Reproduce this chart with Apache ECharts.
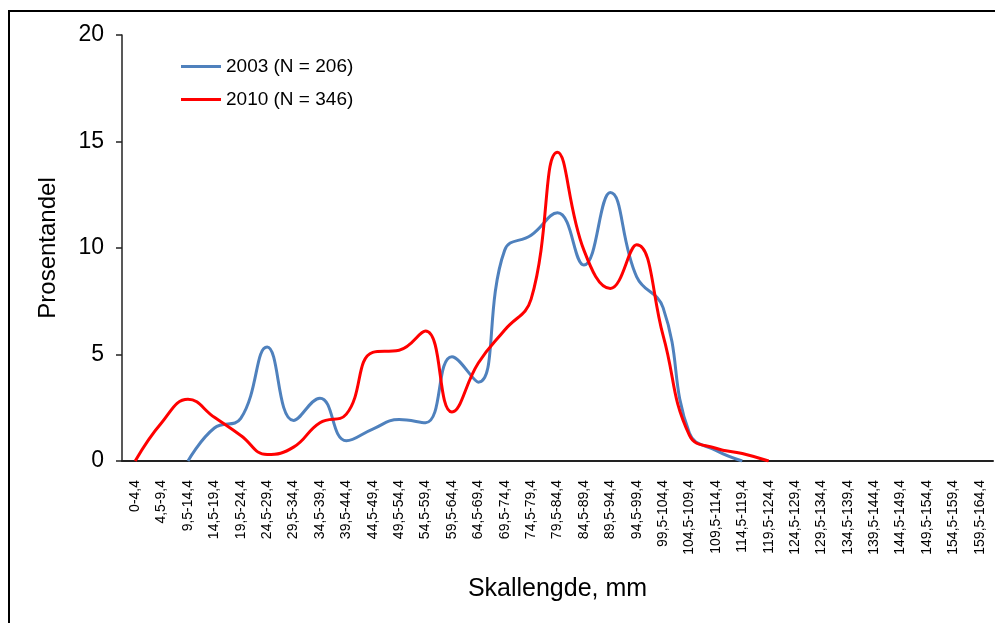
<!DOCTYPE html>
<html>
<head>
<meta charset="utf-8">
<script src="https://cdn.jsdelivr.net/npm/echarts@6/dist/echarts.min.js"></script>
<style>
  html, body { margin: 0; padding: 0; background: #fff; }
  #chart { width: 995px; height: 623px; }
</style>
</head>
<body>
<div id="chart"></div>
<script>
// lengdeklasser (mm)
var categories = [
  "0-4,4", "4,5-9,4", "9,5-14,4", "14,5-19,4", "19,5-24,4", "24,5-29,4",
  "29,5-34,4", "34,5-39,4", "39,5-44,4", "44,5-49,4", "49,5-54,4", "54,5-59,4",
  "59,5-64,4", "64,5-69,4", "69,5-74,4", "74,5-79,4", "79,5-84,4", "84,5-89,4",
  "89,5-94,4", "94,5-99,4", "99,5-104,4", "104,5-109,4", "109,5-114,4", "114,5-119,4",
  "119,5-124,4", "124,5-129,4", "129,5-134,4", "134,5-139,4", "139,5-144,4", "144,5-149,4",
  "149,5-154,4", "154,5-159,4", "159,5-164,4"
];
var data2003 = [
  null, null, 0, 1.55, 2.0, 5.35, 1.9, 2.95, 0.95, 1.5, 1.95, 1.8,
  4.9, 3.7, 9.9, 10.6, 11.65, 9.2, 12.6, 8.65, 7.2, 1.3, 0.5, 0
];
var data2010 = [
  0, 1.8, 2.9, 2.05, 1.2, 0.3, 0.65, 1.8, 2.2, 5.1, 5.2, 6.1,
  2.3, 4.6, 6.15, 7.6, 14.5, 9.9, 8.1, 10.15, 5.9, 1.2, 0.6, 0.35, 0
];
var yTicks = [0, 5, 10, 15, 20];

var myChart = echarts.init(document.getElementById("chart"));
var option = {
  backgroundColor: "#fff",
  animation: false,
  textStyle: { fontFamily: "Liberation Sans, Arial, sans-serif" },
  graphic: [
    {
      type: "rect",
      shape: { x: 9, y: 11, width: 1100, height: 700 },
      style: { fill: "none", stroke: "#000", lineWidth: 2 }
    }
  ],
  grid: { left: 122, right: 2, top: 35, bottom: 162 },
  legend: {
    orient: "vertical",
    left: 181,
    top: 57,
    padding: 0,
    itemWidth: 40,
    itemHeight: 3,
    itemGap: 14,
    icon: "rect",
    data: ["2003 (N = 206)", "2010 (N = 346)"],
    textStyle: { fontSize: 19, color: "#000", padding: [0, 0, 0, 0] }
  },
  xAxis: {
    type: "category",
    data: categories,
    boundaryGap: true,
    name: "Skallengde, mm",
    nameLocation: "middle",
    nameGap: 116,
    nameTextStyle: { fontSize: 25, color: "#000" },
    axisLine: { show: true, lineStyle: { color: "#222", width: 2 } },
    axisTick: { show: false },
    axisLabel: {
      interval: 0,
      rotate: 90,
      fontSize: 14,
      color: "#000",
      margin: 19
    },
    splitLine: { show: false }
  },
  yAxis: {
    type: "value",
    min: yTicks[0],
    max: yTicks[yTicks.length - 1],
    interval: 5,
    name: "Prosentandel",
    nameLocation: "middle",
    nameGap: 62,
    nameTextStyle: { fontSize: 24, color: "#000" },
    axisLine: { show: true, lineStyle: { color: "#222", width: 1.5 } },
    axisTick: { show: true, length: 6, lineStyle: { color: "#222", width: 1.5 } },
    axisLabel: { fontSize: 23, color: "#000", margin: 18 },
    splitLine: { show: false }
  },
  series: [
    {
      name: "2003 (N = 206)",
      type: "line",
      data: data2003,
      smooth: 0.45,
      symbol: "none",
      lineStyle: { color: "#4F81BD", width: 3 },
      itemStyle: { color: "#4F81BD" }
    },
    {
      name: "2010 (N = 346)",
      type: "line",
      data: data2010,
      smooth: 0.45,
      symbol: "none",
      lineStyle: { color: "#FF0000", width: 3 },
      itemStyle: { color: "#FF0000" }
    }
  ]
};
myChart.setOption(option);
</script>
</body>
</html>
